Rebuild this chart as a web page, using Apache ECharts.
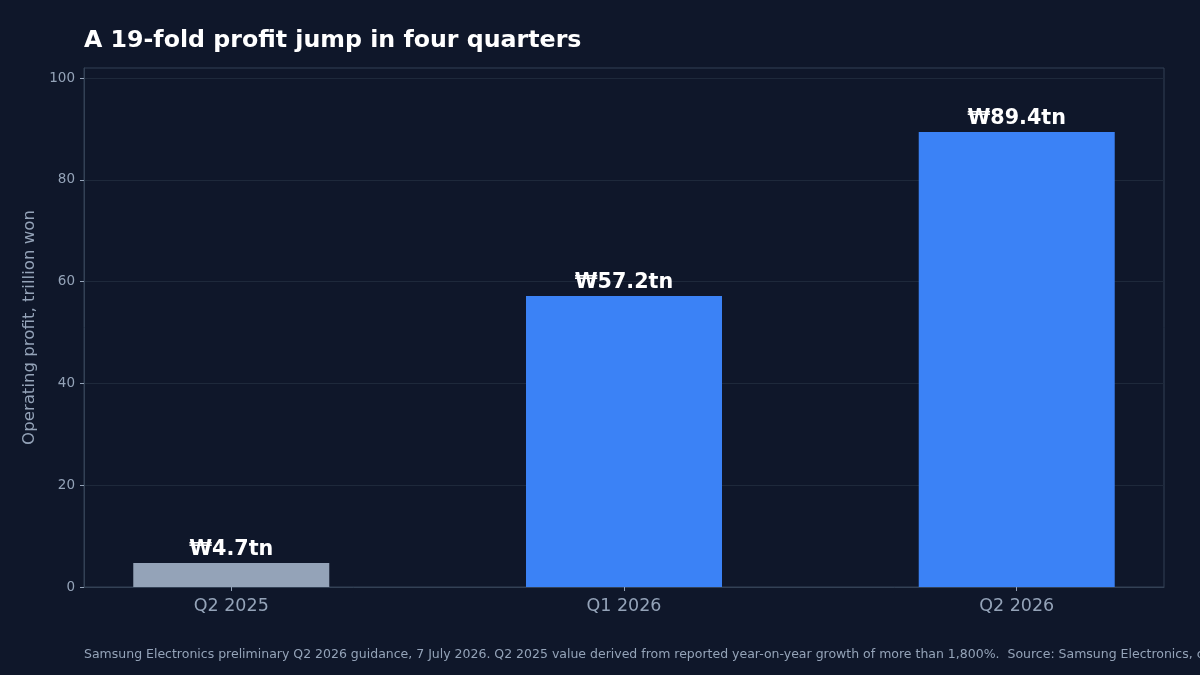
<!DOCTYPE html>
<html>
<head>
<meta charset="utf-8">
<title>Samsung operating profit</title>
<script src="https://cdn.jsdelivr.net/npm/echarts@6/dist/echarts.min.js"></script>
<style>
  html, body { margin: 0; padding: 0; background: #0f172a; }
  #chart { width: 1200px; height: 675px; }
</style>
</head>
<body>
<div id="chart"></div>
<script>
var quarters = ['Q2 2025', 'Q1 2026', 'Q2 2026'];
var profit = [4.7, 57.2, 89.4];
var barColors = ['#94a3b8', '#3b82f6', '#3b82f6'];
var yTicks = [0, 20, 40, 60, 80, 100];

var titleText = 'A 19-fold profit jump in four quarters';
var noteText = 'Samsung Electronics preliminary Q2 2026 guidance, 7 July 2026. Q2 2025 value derived from reported year-on-year growth of more than 1,800%.  Source: Samsung Electronics, company guidance';

var dom = document.getElementById('chart');
var myChart = echarts.init(dom);
var font = 'DejaVu Sans';

var option = {
    backgroundColor: '#0f172a',
    animation: false,
    textStyle: { fontFamily: font },
    title: [{
        text: titleText,
        left: 84,
        top: 29,
        padding: 0,
        textStyle: { color: '#ffffff', fontSize: 23.7, fontWeight: 'bold', fontFamily: font }
    }, {
        text: noteText,
        left: 84,
        top: 648,
        padding: 0,
        textStyle: { color: '#94a3b8', fontSize: 12.5, fontWeight: 'normal', fontFamily: font }
    }],
    grid: {
        left: 84,
        right: 36,
        top: 68,
        bottom: 88,
        show: true,
        borderColor: '#334155',
        borderWidth: 1,
        backgroundColor: 'transparent'
    },
    xAxis: {
        type: 'value',
        min: -0.375,
        max: 2.375,
        splitLine: { show: false },
        axisLine: { show: true, onZero: false, lineStyle: { color: '#334155' } },
        axisTick: {
            show: true,
            length: 4,
            lineStyle: { color: '#94a3b8' },
            customValues: [0, 1, 2]
        },
        axisLabel: {
            customValues: [0, 1, 2],
            color: '#94a3b8',
            fontSize: 17.5,
            margin: 10,
            fontFamily: font,
            formatter: function (v) { return quarters[v]; }
        }
    },
    yAxis: {
        type: 'value',
        min: 0,
        max: 102,
        name: 'Operating profit, trillion won',
        nameLocation: 'middle',
        nameGap: 44,
        nameTextStyle: { color: '#94a3b8', fontSize: 16.6, fontFamily: font },
        axisLine: { show: true, onZero: false, lineStyle: { color: '#334155' } },
        axisTick: {
            show: true,
            length: 4,
            lineStyle: { color: '#94a3b8' },
            customValues: yTicks
        },
        splitLine: { show: true, lineStyle: { color: '#1e293b', width: 1 } },
        axisLabel: {
            customValues: yTicks,
            color: '#94a3b8',
            fontSize: 13.5,
            margin: 9,
            fontFamily: font
        }
    },
    series: [{
        type: 'bar',
        barWidth: 196,
        data: profit.map(function (v, i) {
            return { value: [i, v], itemStyle: { color: barColors[i] } };
        }),
        label: {
            show: true,
            position: 'top',
            distance: 3,
            color: '#ffffff',
            fontSize: 20.7,
            fontWeight: 'bold',
            fontFamily: font,
            formatter: function (p) { return '₩' + p.value[1] + 'tn'; }
        }
    }]
};

myChart.setOption(option, true);
</script>
</body>
</html>
